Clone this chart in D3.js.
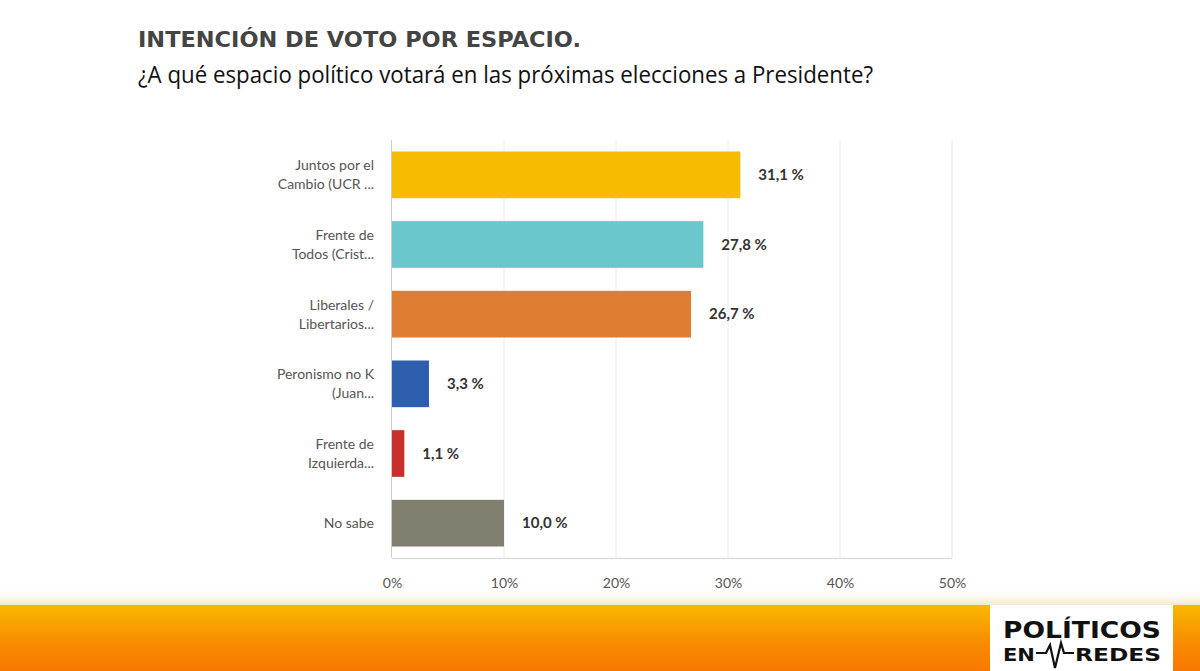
<!DOCTYPE html>
<html><head><meta charset="utf-8">
<script src="https://cdn.jsdelivr.net/npm/d3@7"></script>
<style>body{margin:0;background:#fff}svg{display:block}</style>
</head><body><svg id="c" width="1200" height="671"></svg>
<script>
const categories = [
  ["Juntos por el","Cambio (UCR ..."],
  ["Frente de","Todos (Crist..."],
  ["Liberales /","Libertarios..."],
  ["Peronismo no K","(Juan..."],
  ["Frente de","Izquierda..."],
  ["No sabe"]
];
const values = [31.1, 27.8, 26.7, 3.3, 1.1, 10.0];
const valueLabels = ["31,1 %","27,8 %","26,7 %","3,3 %","1,1 %","10,0 %"];
const colors = ["#f7bc00","#6ac7cc","#e07d35","#2d5fae","#c9302c","#7f7e6f"];
const ticks = [0,10,20,30,40,50];
const tickLabels = ["0%","10%","20%","30%","40%","50%"];

const svg = d3.select("#c");
const defs = svg.append("defs");
const g1 = defs.append("linearGradient").attr("id","band").attr("x1",0).attr("y1",0).attr("x2",0).attr("y2",1);
g1.append("stop").attr("offset","0%").attr("stop-color","#f8b800");
g1.append("stop").attr("offset","60%").attr("stop-color","#f88a00");
g1.append("stop").attr("offset","100%").attr("stop-color","#f87800");
const sh = defs.append("linearGradient").attr("id","shadow").attr("x1",0).attr("y1",0).attr("x2",0).attr("y2",1);
sh.append("stop").attr("offset","0%").attr("stop-color","#fff").attr("stop-opacity",0);
sh.append("stop").attr("offset","100%").attr("stop-color","#f5e9c8").attr("stop-opacity",1);

// titles
svg.append("text").attr("x",138).attr("y",47)
  .attr("font-family","DejaVu Sans").attr("font-weight","bold").attr("font-size",21)
  .attr("fill","#444").attr("textLength",443).attr("lengthAdjust","spacingAndGlyphs")
  .text("INTENCIÓN DE VOTO POR ESPACIO.");
svg.append("text").attr("x",138).attr("y",83)
  .attr("font-family","Open Sans").attr("font-size",23)
  .attr("fill","#111").attr("textLength",735).attr("lengthAdjust","spacingAndGlyphs")
  .text("¿A qué espacio político votará en las próximas elecciones a Presidente?");

const L = 392, R = 952, T = 140, B = 558;
const x = d3.scaleLinear().domain([0,50]).range([L,R]);
const y = d3.scaleBand().domain(d3.range(values.length)).range([T,B]).paddingInner(0.33).paddingOuter(0.165);

// grid
const grid = svg.append("g");
grid.selectAll("line.g").data(ticks.slice(1,-1)).join("line")
  .attr("x1",d=>x(d)).attr("x2",d=>x(d)).attr("y1",T).attr("y2",B)
  .attr("stroke","#ececec").attr("stroke-width",1);
grid.append("line").attr("x1",R).attr("x2",R).attr("y1",T).attr("y2",B).attr("stroke","#e4e4e4");
grid.append("line").attr("x1",L).attr("x2",R).attr("y1",B+0.5).attr("y2",B+0.5).attr("stroke","#d4d4d4");
grid.append("line").attr("x1",L-0.5).attr("x2",L-0.5).attr("y1",T).attr("y2",B).attr("stroke","#cfcfcf");

// bars
svg.append("g").selectAll("rect").data(values).join("rect")
  .attr("x",L).attr("y",(d,i)=>y(i)).attr("width",d=>x(d)-L).attr("height",y.bandwidth())
  .attr("fill",(d,i)=>colors[i]);

// value labels
svg.append("g").selectAll("text").data(values).join("text")
  .attr("x",d=>x(d)+18).attr("y",(d,i)=>y(i)+y.bandwidth()/2+5)
  .attr("font-family","Lato").attr("font-weight","bold").attr("font-size",15)
  .attr("fill","#333").text((d,i)=>valueLabels[i]);

// category labels
const cl = svg.append("g").selectAll("text").data(categories).join("text")
  .attr("text-anchor","end").attr("font-family","Lato").attr("font-size",14).attr("fill","#555");
cl.each(function(lines,i){
  const t = d3.select(this);
  const cy = y(i)+y.bandwidth()/2;
  const lh = 19;
  const start = cy - (lines.length-1)*lh/2 + 5;
  lines.forEach((s,j)=>t.append("tspan").attr("x",374).attr("y",start+j*lh).text(s));
});

// x axis
const ax = svg.append("g").attr("transform",`translate(0,${B})`)
  .call(d3.axisBottom(x).tickValues(ticks).tickFormat((d,i)=>tickLabels[i]).tickSize(0).tickPadding(20));
ax.select(".domain").remove();
ax.selectAll("text").attr("font-family","Lato").attr("font-size",14).attr("fill","#555");

// footer
svg.append("rect").attr("x",0).attr("y",588).attr("width",1200).attr("height",17).attr("fill","url(#shadow)");
svg.append("rect").attr("x",0).attr("y",605).attr("width",990).attr("height",66).attr("fill","url(#band)");
svg.append("rect").attr("x",1173).attr("y",605).attr("width",27).attr("height",66).attr("fill","url(#band)");
svg.append("rect").attr("x",990).attr("y",605).attr("width",183).attr("height",66).attr("fill","#fff");
svg.append("text").attr("x",1003).attr("y",638).attr("font-family","DejaVu Sans").attr("font-weight","bold")
  .attr("font-size",23).attr("fill","#111").attr("textLength",158).attr("lengthAdjust","spacingAndGlyphs").text("POLÍTICOS");
svg.append("text").attr("x",1003).attr("y",661).attr("font-family","DejaVu Sans").attr("font-weight","bold")
  .attr("font-size",18).attr("fill","#111").attr("textLength",32).attr("lengthAdjust","spacingAndGlyphs").text("EN");
svg.append("text").attr("x",1075).attr("y",661).attr("font-family","DejaVu Sans").attr("font-weight","bold")
  .attr("font-size",18).attr("fill","#111").attr("textLength",86).attr("lengthAdjust","spacingAndGlyphs").text("REDES");
svg.append("path").attr("d","M1036,653 L1046,653 L1050,645 L1055,668 L1061,643 L1064,653 L1074,653")
  .attr("fill","none").attr("stroke","#111").attr("stroke-width",2.2);
</script></body></html>
